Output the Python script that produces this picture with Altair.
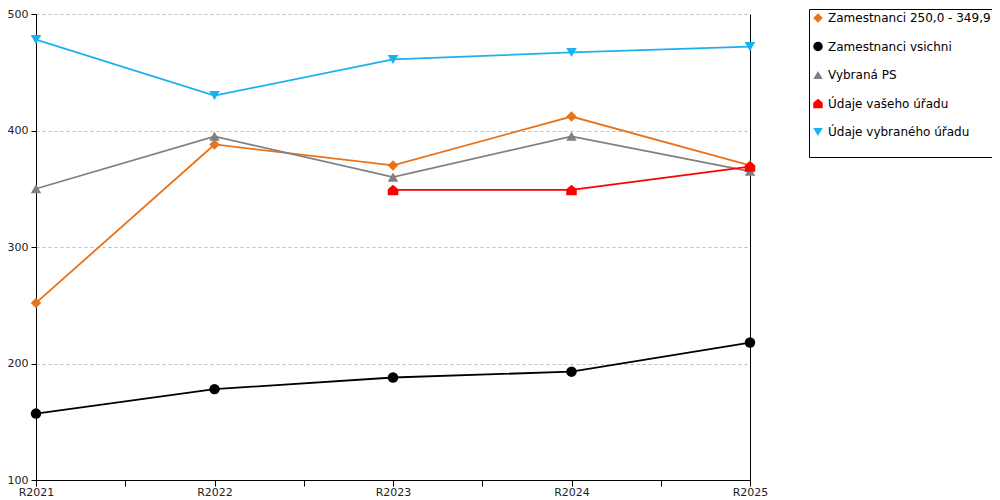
import altair as alt
import pandas as pd

years = ["R2021", "R2022", "R2023", "R2024", "R2025"]
series = ["Zamestnanci 250,0 - 349,9", "Zamestnanci vsichni", "Vybraná PS",
          "Údaje vašeho úřadu", "Údaje vybraného úřadu"]
s_orange = [252, 388, 370, 412, 370]
s_black = [157, 178, 188, 193, 218]
s_gray = [350, 395, 360, 395, 365]
s_red = [None, None, 349, 349, 369]
s_blue = [478, 430, 461, 467, 472]

colors = ["#E8731A", "#000000", "#808080", "#FF0000", "#1AB2EE"]
house = "M-1,1L-1,-0.15L0,-1L1,-0.15L1,1Z"
shapes = ["diamond", "circle", "triangle-up", house, "triangle-down"]

rows = []
for name, vals in zip(series, [s_orange, s_black, s_gray, s_red, s_blue]):
    for i, (yr, v) in enumerate(zip(years, vals)):
        if v is not None:
            rows.append({"series": name, "year": yr, "idx": i, "value": v})
df = pd.DataFrame(rows)

label_arr = "[" + ",".join("'%s'" % y for y in years) + "]"
xaxis = alt.Axis(
    values=[i * 0.5 for i in range(2 * len(years) - 1)],
    labelExpr=f"datum.value % 1 == 0 ? {label_arr}[datum.value] : ''",
    title=None, grid=False, domainColor="black", tickColor="black",
    tickSize=6, labelFont="DejaVu Sans", labelFontSize=11, labelColor="#222",
    labelPadding=0, labelFlush=False, labelOverlap=False,
)
xenc = alt.X("idx:Q", scale=alt.Scale(domain=[0, len(years) - 1], nice=False), axis=xaxis)
yscale = alt.Scale(domain=[100, 500], nice=False)
yaxis = alt.Axis(
    values=[100, 200, 300, 400, 500], title=None, grid=True, gridColor="#bbbbbb",
    gridDash=[3, 3], gridWidth=1, domainColor="black", tickColor="black", tickSize=5,
    labelFont="DejaVu Sans", labelFontSize=11, labelColor="#222", labelPadding=3,
)
legend = alt.Legend(
    orient="none", legendX=773, legendY=-5, strokeColor="black",
    fillColor="white", padding=3, rowPadding=16.5, symbolSize=90,
    symbolStrokeWidth=0, labelFont="DejaVu Sans", labelFontSize=12,
    labelColor="black", labelOffset=4, labelLimit=300, cornerRadius=0,
    title=" ", titleOrient="bottom", titleFontSize=10, titlePadding=6,
)
color = alt.Color("series:N", scale=alt.Scale(domain=series, range=colors), legend=legend)
shape = alt.Shape("series:N", scale=alt.Scale(domain=series, range=shapes), legend=legend)

base = alt.Chart(df)
lines = base.mark_line(strokeWidth=1.8).encode(
    x=xenc, y=alt.Y("value:Q", scale=yscale, axis=yaxis),
    color=color, detail="series:N", order="idx:Q",
)
points = base.mark_point(filled=True, opacity=1, size=110).encode(
    x=xenc, y=alt.Y("value:Q", scale=yscale, axis=None),
    color=color, shape=shape,
)
right = base.mark_point(opacity=0).encode(
    x=xenc,
    y=alt.Y("value:Q", scale=yscale,
            axis=alt.Axis(orient="right", labels=False, ticks=False, grid=False,
                          domainColor="black", title=None)),
)

chart = alt.layer(lines, points, right).resolve_axis(y="independent").properties(
    width=714, height=466,
    padding={"left": 28, "top": 6, "right": 242, "bottom": 20},
    autosize="none",
).configure_view(stroke=None).configure_axis(domainWidth=1)

chart.save("out.html", embed_options={"renderer": "svg", "actions": False})
